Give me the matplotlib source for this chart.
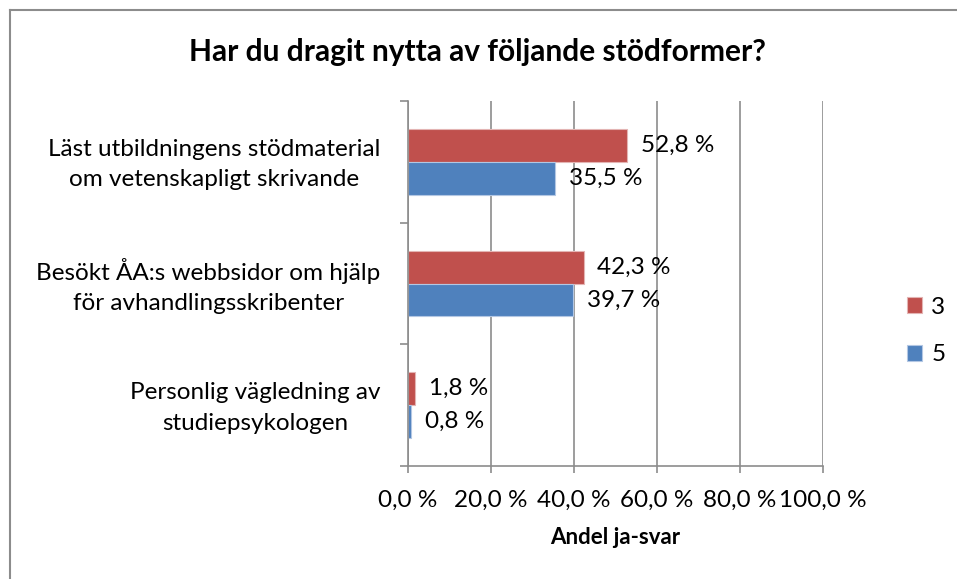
import numpy as np
import matplotlib
matplotlib.use('Agg')
import matplotlib.pyplot as plt
import matplotlib.transforms as mtransforms
from matplotlib.lines import Line2D

plt.rcParams['font.family'] = ['Lato', 'DejaVu Sans']

categories = ['Läst utbildningens stödmaterial\nom vetenskapligt skrivande',
              'Besökt ÅA:s webbsidor om hjälp\nför avhandlingsskribenter',
              'Personlig vägledning av\nstudiepsykologen']
series_names = ['3', '5']
values_3 = [52.8, 42.3, 1.8]
values_5 = [35.5, 39.7, 0.8]
xticks = [0, 20, 40, 60, 80, 100]

red = '#C0504D'
blue = '#4F81BD'
gray = '#8C8C8C'

fig = plt.figure(figsize=(9.57, 5.79), dpi=100)
ax = fig.add_axes([408/957, 1 - 466/579, 415/957, 365/579])

y = np.arange(len(categories))
h = 0.27
b1 = ax.barh(y - h/2, values_3, height=h, color=red, edgecolor='#E3B4B3', linewidth=0.8, label=series_names[0])
b2 = ax.barh(y + h/2, values_5, height=h, color=blue, edgecolor='#B3C7E3', linewidth=0.8, label=series_names[1])

for bars, vals in [(b1, values_3), (b2, values_5)]:
    for bar, v in zip(bars, vals):
        ax.annotate(f'{v:.1f} %'.replace('.', ','),
                    xy=(v, bar.get_y() + bar.get_height()/2),
                    xytext=(10, 0), textcoords='offset points',
                    ha='left', va='center', fontsize=17.5, color='black')

ax.set_xlim(0, 100)
ax.set_ylim(len(categories) - 0.5, -0.5)
ax.set_xticks(xticks)
ax.set_xticklabels([f'{t:.1f} %'.replace('.', ',') for t in xticks], fontsize=17.5)
ax.tick_params(axis='x', length=5, color=gray, pad=12, width=1.2)

ax.set_yticks(y)
ax.set_yticklabels(categories, fontsize=17.5)
ax.set_yticks(np.arange(len(categories) + 1) - 0.5, minor=True)
ax.tick_params(axis='y', which='major', length=0, pad=20)
ax.tick_params(axis='y', which='minor', length=6, color=gray, width=1.2)
shift = mtransforms.ScaledTranslation(0, 4/100, fig.dpi_scale_trans)
for lab in ax.get_yticklabels():
    lab.set_multialignment('center')
    lab.set_linespacing(1.55)
    lab.set_transform(lab.get_transform() + shift)

ax.grid(axis='x', color=gray, linewidth=1.2)
ax.set_axisbelow(True)
for s in ['top', 'right']:
    ax.spines[s].set_visible(False)
for s in ['left', 'bottom']:
    ax.spines[s].set_color(gray)
    ax.spines[s].set_linewidth(1.2)

ax.set_xlabel('Andel ja-svar', fontsize=16, fontweight='bold', labelpad=12)

fig.text(477/957, 1 - 52/579, 'Har du dragit nytta av följande stödformer?',
         ha='center', va='center', fontsize=21.5, fontweight='bold')

fig.legend(handles=[b1, b2], loc='center left', bbox_to_anchor=(907/957, 1 - 331/579),
           frameon=False, fontsize=17.5, handlelength=0.6, handleheight=0.6,
           handletextpad=0.4, labelspacing=1.1, borderpad=0, borderaxespad=0)

fig.add_artist(Line2D([10/957, 1], [1 - 10/579, 1 - 10/579], transform=fig.transFigure, color=gray, linewidth=1.5))
fig.add_artist(Line2D([10/957, 10/957], [0, 1 - 10/579], transform=fig.transFigure, color=gray, linewidth=1.5))

fig.savefig('out.png', dpi=100)
